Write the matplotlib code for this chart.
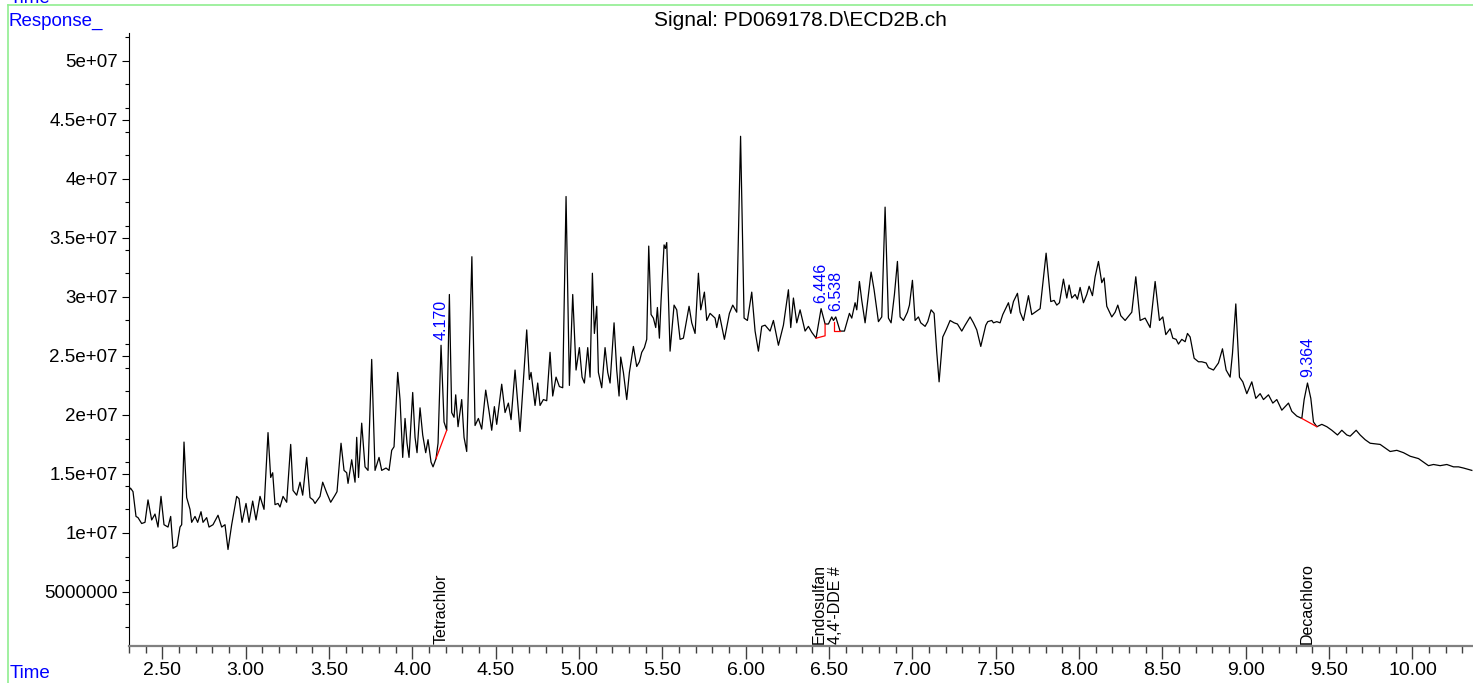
import numpy as np
import matplotlib
matplotlib.use("Agg")
import matplotlib.pyplot as plt
from matplotlib.lines import Line2D
from matplotlib.ticker import FixedLocator, MultipleLocator

plt.rcParams['font.family'] = ['Liberation Sans', 'DejaVu Sans']

# chromatogram trace (time in min, response in 1e6 counts)
time_min = [
    2.300, 2.309, 2.324, 2.342, 2.354, 2.376, 2.396, 2.414, 2.436, 2.456,
    2.474, 2.492, 2.510, 2.534, 2.550, 2.564, 2.588, 2.606, 2.616, 2.630,
    2.646, 2.666, 2.676, 2.696, 2.712, 2.732, 2.744, 2.766, 2.780, 2.804,
    2.834, 2.856, 2.876, 2.894, 2.916, 2.946, 2.960, 2.978, 3.002, 3.020,
    3.042, 3.062, 3.086, 3.110, 3.134, 3.150, 3.162, 3.176, 3.194, 3.206,
    3.224, 3.246, 3.270, 3.284, 3.306, 3.326, 3.342, 3.366, 3.386, 3.404,
    3.416, 3.446, 3.462, 3.486, 3.510, 3.536, 3.548, 3.572, 3.590, 3.606,
    3.614, 3.636, 3.656, 3.666, 3.677, 3.696, 3.716, 3.734, 3.756, 3.776,
    3.800, 3.816, 3.842, 3.860, 3.876, 3.890, 3.912, 3.926, 3.942, 3.956,
    3.968, 3.980, 4.002, 4.016, 4.028, 4.046, 4.062, 4.080, 4.094, 4.112,
    4.124, 4.142, 4.154, 4.172, 4.190, 4.206, 4.222, 4.236, 4.250, 4.260,
    4.274, 4.296, 4.310, 4.326, 4.357, 4.376, 4.396, 4.416, 4.440, 4.460,
    4.476, 4.492, 4.506, 4.536, 4.556, 4.576, 4.592, 4.616, 4.646, 4.686,
    4.702, 4.712, 4.736, 4.752, 4.766, 4.786, 4.806, 4.826, 4.842, 4.862,
    4.882, 4.902, 4.922, 4.942, 4.962, 4.982, 5.002, 5.018, 5.032, 5.052,
    5.066, 5.080, 5.092, 5.106, 5.116, 5.136, 5.156, 5.172, 5.186, 5.210,
    5.226, 5.240, 5.250, 5.266, 5.286, 5.302, 5.326, 5.346, 5.362, 5.376,
    5.392, 5.406, 5.418, 5.432, 5.446, 5.460, 5.470, 5.482, 5.492, 5.510,
    5.518, 5.526, 5.536, 5.546, 5.570, 5.586, 5.606, 5.626, 5.660, 5.676,
    5.696, 5.716, 5.730, 5.752, 5.766, 5.786, 5.816, 5.826, 5.842, 5.872,
    5.902, 5.922, 5.946, 5.969, 5.990, 6.010, 6.036, 6.056, 6.076, 6.096,
    6.116, 6.146, 6.166, 6.196, 6.226, 6.256, 6.270, 6.286, 6.306, 6.326,
    6.356, 6.376, 6.396, 6.422, 6.452, 6.476, 6.496, 6.516, 6.526, 6.540,
    6.566, 6.592, 6.622, 6.636, 6.656, 6.666, 6.682, 6.696, 6.716, 6.752,
    6.770, 6.796, 6.816, 6.836, 6.856, 6.872, 6.892, 6.910, 6.926, 6.946,
    6.970, 6.982, 7.000, 7.016, 7.036, 7.050, 7.076, 7.092, 7.112, 7.130,
    7.146, 7.160, 7.182, 7.202, 7.226, 7.250, 7.270, 7.296, 7.316, 7.346,
    7.366, 7.386, 7.410, 7.440, 7.452, 7.476, 7.486, 7.506, 7.526, 7.542,
    7.576, 7.590, 7.606, 7.630, 7.646, 7.666, 7.696, 7.716, 7.736, 7.766,
    7.802, 7.830, 7.850, 7.866, 7.882, 7.906, 7.926, 7.940, 7.956, 7.976,
    7.990, 8.006, 8.026, 8.046, 8.060, 8.080, 8.096, 8.116, 8.136, 8.150,
    8.166, 8.196, 8.216, 8.232, 8.250, 8.276, 8.316, 8.340, 8.366, 8.396,
    8.426, 8.456, 8.482, 8.502, 8.520, 8.546, 8.562, 8.582, 8.596, 8.616,
    8.636, 8.650, 8.666, 8.690, 8.716, 8.736, 8.762, 8.776, 8.806, 8.836,
    8.860, 8.882, 8.906, 8.920, 8.940, 8.962, 8.982, 9.006, 9.036, 9.060,
    9.086, 9.106, 9.136, 9.162, 9.186, 9.216, 9.256, 9.276, 9.306, 9.336,
    9.350, 9.370, 9.390, 9.406, 9.426, 9.456, 9.486, 9.516, 9.550, 9.576,
    9.606, 9.626, 9.662, 9.686, 9.716, 9.746, 9.806, 9.836, 9.866, 9.906,
    9.946, 9.986, 10.036, 10.066, 10.096, 10.126, 10.166, 10.206, 10.246, 10.276,
    10.306, 10.356,
]
response_m = [
    13.6, 13.8, 13.5, 11.4, 11.3, 10.8, 10.9, 12.8, 11.1, 11.6,
    10.5, 13.1, 10.7, 10.5, 11.4, 8.7, 8.9, 10.5, 10.7, 17.7,
    13.0, 12.0, 10.9, 11.4, 10.9, 11.8, 10.9, 11.3, 10.5, 10.7,
    11.5, 10.5, 10.7, 8.6, 10.7, 13.1, 12.9, 10.9, 12.5, 10.9,
    12.7, 11.1, 13.1, 12.0, 18.5, 14.7, 15.1, 12.4, 12.5, 12.2,
    13.1, 12.6, 17.5, 13.6, 13.2, 14.3, 13.2, 16.4, 13.0, 12.8,
    12.5, 13.1, 14.3, 13.4, 12.6, 13.2, 13.5, 17.6, 15.3, 15.1,
    14.2, 16.2, 14.3, 18.1, 14.7, 19.3, 15.6, 15.3, 24.7, 15.3,
    16.4, 15.3, 15.5, 15.3, 17.0, 17.3, 23.6, 21.3, 16.4, 19.7,
    17.6, 16.4, 21.9, 18.1, 16.8, 20.6, 18.3, 16.8, 17.9, 16.0,
    15.6, 16.3, 17.6, 25.9, 19.4, 18.7, 30.2, 20.2, 19.8, 21.7,
    19.0, 21.3, 18.1, 16.9, 33.4, 19.1, 19.7, 18.8, 22.1, 20.3,
    18.7, 20.7, 19.2, 22.6, 20.2, 21.0, 19.6, 23.8, 18.6, 27.2,
    23.0, 23.6, 20.8, 22.7, 20.8, 21.3, 21.2, 25.3, 21.6, 23.2,
    22.4, 22.3, 38.5, 22.5, 30.2, 23.8, 25.7, 23.2, 22.7, 25.7,
    23.2, 32.0, 26.9, 29.2, 23.6, 22.3, 25.7, 23.6, 22.7, 27.8,
    23.8, 21.6, 24.9, 23.6, 21.3, 23.6, 25.8, 24.1, 24.5, 25.3,
    25.7, 26.4, 34.3, 28.5, 28.2, 27.4, 29.1, 26.5, 29.7, 34.4,
    34.1, 34.6, 30.0, 25.4, 29.3, 28.9, 26.4, 26.5, 29.2, 27.8,
    26.9, 32.0, 28.9, 30.4, 28.0, 28.6, 28.2, 27.4, 28.5, 26.4,
    28.6, 29.3, 28.7, 43.6, 28.2, 28.0, 30.4, 27.1, 25.4, 27.5,
    27.6, 27.1, 28.0, 25.9, 27.6, 30.6, 27.4, 29.9, 27.8, 28.9,
    27.1, 27.5, 27.0, 26.5, 29.0, 27.7, 27.7, 28.3, 28.0, 28.3,
    27.1, 27.1, 28.6, 28.2, 29.5, 28.9, 31.3, 29.7, 27.8, 32.1,
    30.6, 27.9, 28.3, 37.6, 28.2, 27.8, 30.2, 33.0, 28.3, 28.0,
    28.7, 29.3, 31.4, 28.0, 28.3, 27.8, 27.5, 27.9, 28.9, 28.6,
    25.3, 22.8, 26.6, 27.2, 28.0, 27.8, 27.7, 27.1, 27.6, 28.3,
    27.8, 27.2, 25.8, 27.6, 27.9, 28.0, 27.8, 27.9, 27.8, 28.5,
    29.5, 28.6, 29.6, 30.3, 28.7, 28.0, 30.1, 28.5, 28.7, 29.0,
    33.7, 29.6, 29.7, 29.3, 29.5, 31.5, 29.9, 31.0, 29.9, 30.2,
    29.8, 30.8, 29.5, 30.2, 30.9, 30.1, 31.7, 33.0, 31.2, 31.6,
    29.2, 28.3, 28.7, 29.3, 28.4, 28.0, 28.7, 31.7, 28.0, 28.2,
    27.4, 31.3, 28.0, 28.3, 26.8, 27.3, 26.5, 26.4, 26.0, 26.4,
    26.2, 26.9, 26.6, 24.8, 24.5, 24.5, 24.4, 24.0, 23.8, 24.4,
    25.6, 23.8, 23.2, 25.2, 29.4, 23.2, 22.8, 21.8, 22.8, 21.4,
    21.8, 21.3, 21.7, 21.0, 21.3, 20.4, 21.0, 20.3, 19.9, 19.7,
    21.3, 22.7, 21.4, 19.4, 19.0, 19.2, 19.0, 18.7, 18.3, 18.7,
    18.3, 18.2, 18.7, 18.3, 17.9, 17.6, 17.5, 17.2, 16.9, 17.0,
    16.8, 16.5, 16.3, 16.0, 15.7, 15.8, 15.7, 15.8, 15.6, 15.6,
    15.5, 15.3,
]

# integrated peaks: retention time label, apex response, baseline segments (red)
peak_rt = [4.170, 6.446, 6.538, 9.364]
peak_apex_x = [4.172, 6.452, 6.540, 9.370]
peak_apex_m = [25.9, 29.0, 28.3, 22.7]
baseline_x = [[4.142, 4.206], [6.422, 6.476, 6.476], [6.532, 6.532, 6.566], [9.336, 9.426]]
baseline_m = [[16.3, 18.7], [26.5, 26.7, 27.7], [27.9, 27.1, 27.1], [19.7, 19.0]]

# compound names along the time axis
compound_names = ['Tetrachlor', 'Endosulfan', "4,4'-DDE #", 'Decachloro']
compound_x = [4.172, 6.443, 6.538, 9.366]

ytick_values = [5e6, 1e7, 1.5e7, 2e7, 2.5e7, 3e7, 3.5e7, 4e7, 4.5e7, 5e7]
ytick_labels = ['5000000', '1e+07', '1.5e+07', '2e+07', '2.5e+07', '3e+07',
                '3.5e+07', '4e+07', '4.5e+07', '5e+07']
xtick_values = [2.5, 3.0, 3.5, 4.0, 4.5, 5.0, 5.5, 6.0, 6.5, 7.0, 7.5, 8.0,
                8.5, 9.0, 9.5, 10.0]

blue = '#0000ff'
W, H = 1473, 683
fig = plt.figure(figsize=(W / 100, H / 100), dpi=100)
ax = fig.add_axes([129 / W, 37.3 / H, 1344 / W, 612.7 / H])

t = np.array(time_min)
resp = np.array(response_m) * 1e6
ax.plot(t, resp, color='black', lw=0.9)

for bx, bm in zip(baseline_x, baseline_m):
    ax.plot(bx, np.array(bm) * 1e6, color='#ff0000', lw=0.9)

for rt, px, pm in zip(peak_rt, peak_apex_x, peak_apex_m):
    ax.annotate('%.3f' % rt, xy=(px, pm * 1e6), xytext=(0, 4),
                textcoords='offset points', rotation=90, ha='center',
                va='bottom', color=blue, fontsize=11.5)

for name, cx in zip(compound_names, compound_x):
    ax.text(cx, 0.003, name, transform=ax.get_xaxis_transform(),
            rotation=90, ha='center', va='bottom', fontsize=11.5)

ax.set_xlim(2.3, 10.363)
ax.set_ylim(0.45e6, 52.35e6)

ax.xaxis.set_major_locator(FixedLocator(xtick_values))
ax.set_xticklabels(['%.2f' % v for v in xtick_values])
ax.xaxis.set_minor_locator(MultipleLocator(0.1))
ax.yaxis.set_major_locator(FixedLocator(ytick_values))
ax.set_yticklabels(ytick_labels)
ax.yaxis.set_minor_locator(MultipleLocator(2e6))

for side in ['top', 'right']:
    ax.spines[side].set_visible(False)
ax.spines['bottom'].set_color('#808080')
ax.spines['bottom'].set_linewidth(1.6)
ax.spines['left'].set_linewidth(0.8)

ax.tick_params(axis='x', which='major', length=9, width=1, color='#404040',
               labelsize=14, pad=3)
ax.tick_params(axis='x', which='minor', length=5, width=1, color='#404040')
ax.tick_params(axis='y', which='major', length=5, width=0.8, labelsize=13.5, pad=3)
ax.tick_params(axis='y', which='minor', length=3, width=0.8)

# frame lines and header texts of the report (the top "Time" is cut off as in the print)
green = '#90ee90'
fig.add_artist(Line2D([8 / W, 1], [1 - 5 / H, 1 - 5 / H], color=green, lw=1.2))
fig.add_artist(Line2D([8 / W, 8 / W], [0, 1 - 5 / H], color=green, lw=1.2))
fig.text(10 / W, 1 - 3 / H, 'Time', color=blue, fontsize=13.5, va='baseline')
fig.text(9 / W, 1 - 26 / H, 'Response_', color=blue, fontsize=13.5, va='baseline')
fig.text(10 / W, 5 / H, 'Time', color=blue, fontsize=13.5, va='baseline')
fig.text(800 / W, 1 - 26 / H, 'Signal: PD069178.D\\ECD2B.ch', ha='center',
         va='baseline', fontsize=15)

fig.savefig('out.png', dpi=100)
